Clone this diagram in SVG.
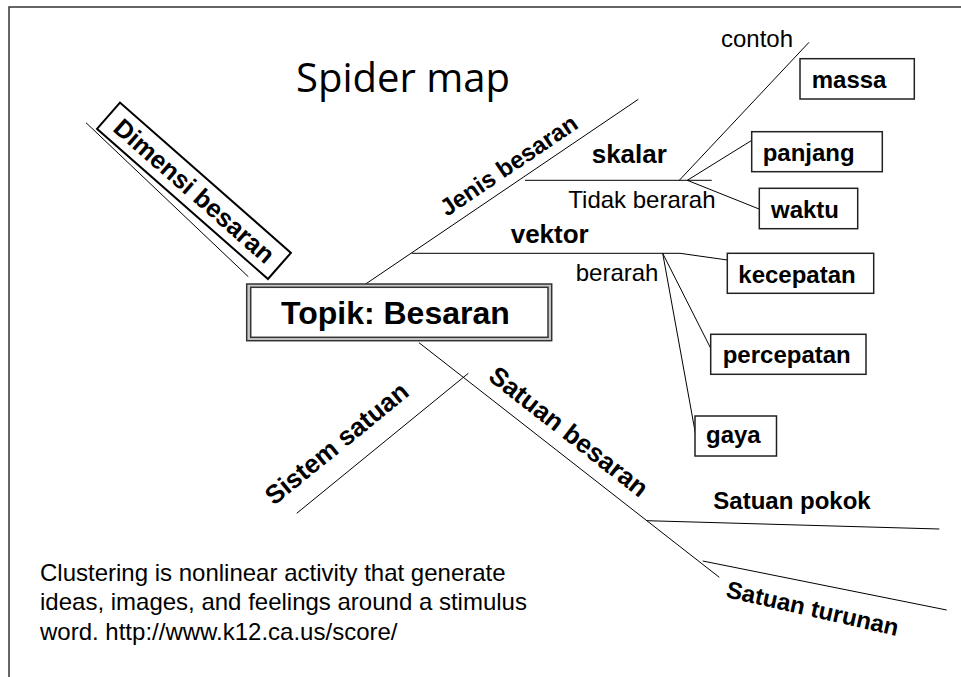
<svg xmlns="http://www.w3.org/2000/svg" width="961" height="677" viewBox="0 0 961 677">
  <style>
    .t{font-family:"Liberation Sans",Arial,sans-serif;fill:#000}
    .b{font-weight:bold}
    .s24{font-size:24px}
    .s26{font-size:26px}
    .ln{stroke:#000;stroke-width:1;fill:none}
    .box{fill:#fff;stroke:#222;stroke-width:1.5}
  </style>
  <rect width="961" height="677" fill="#fff"/>
  <!-- slide frame -->
  <rect x="9" y="7" width="970" height="690" fill="none" stroke="#333" stroke-width="1.5"/>

  <text id="title" x="296" y="92" style="font-family:'Open Sans','DejaVu Sans',sans-serif;font-size:40px" fill="#000">Spider map</text>

  <!-- connectors -->
  <g id="connectors" class="ln">
    <line x1="86" y1="122.7" x2="248.3" y2="276.7"/>
    <line x1="362.7" y1="286" x2="638.3" y2="99.3"/>
    <line x1="525" y1="180.3" x2="711.7" y2="180.3"/>
    <line x1="679.3" y1="180.3" x2="809" y2="42.3"/>
    <line x1="687.3" y1="180.3" x2="752.3" y2="140"/>
    <line x1="687.3" y1="180.3" x2="768.3" y2="212.7"/>
    <line x1="411.7" y1="253.3" x2="680" y2="253.3"/>
    <line x1="680" y1="253.3" x2="736.7" y2="261.3"/>
    <line x1="662.7" y1="253.3" x2="710.7" y2="348.3"/>
    <line x1="662.7" y1="253.3" x2="696" y2="436.7"/>
    <line x1="419" y1="342.7" x2="719.3" y2="577.3"/>
    <line x1="646.7" y1="520.7" x2="939.3" y2="529"/>
    <line x1="702.7" y1="561" x2="946.7" y2="610"/>
    <line x1="296.7" y1="513.3" x2="468.3" y2="373.3"/>
  </g>

  <!-- central topic -->
  <g id="topik">
    <rect x="246.7" y="284" width="305" height="56.7" fill="#c8c8c8" stroke="#333" stroke-width="1.5"/>
    <rect x="250.7" y="287.3" width="297.3" height="50" fill="#fff" stroke="#333" stroke-width="1.5"/>
    <text class="t b" x="281" y="324" style="font-size:32px">Topik: Besaran</text>
  </g>

  <g id="dimensi" transform="translate(120,102.7) rotate(41.3)">
    <rect x="0" y="0" width="227.5" height="34.8" fill="#fff" stroke="#000" stroke-width="2"/>
    <text class="t b" x="12" y="26" style="font-size:25.5px">Dimensi besaran</text>
  </g>

  <g id="jenis">
    <text class="t b s24" transform="translate(447,217) rotate(-34.1)">Jenis besaran</text>
  </g>

  <g id="skalar">
    <text class="t b s26" x="591.7" y="162.7">skalar</text>
    <text class="t s24" x="568.3" y="208.3">Tidak berarah</text>
  </g>
  <g id="contoh"><text class="t s24" x="721" y="46.7">contoh</text></g>

  <g id="vektor">
    <text class="t b s26" x="510.7" y="243.3">vektor</text>
    <text class="t s24" x="575.7" y="281">berarah</text>
  </g>

  <g id="massa">
    <rect class="box" x="800" y="58.7" width="114.3" height="40.3"/>
    <text class="t b s24" x="811.7" y="87.7">massa</text>
  </g>
  <g id="panjang">
    <rect class="box" x="751.7" y="131.7" width="130.6" height="40"/>
    <text class="t b s24" x="762.7" y="161.3">panjang</text>
  </g>
  <g id="waktu">
    <rect class="box" x="759.3" y="188.3" width="98.4" height="40.4"/>
    <text class="t b s24" x="771" y="218.3">waktu</text>
  </g>
  <g id="kecepatan">
    <rect class="box" x="727.3" y="253.3" width="146.4" height="40"/>
    <text class="t b s24" x="738.3" y="282.7">kecepatan</text>
  </g>
  <g id="percepatan">
    <rect class="box" x="710.7" y="334.3" width="155.3" height="40"/>
    <text class="t b s24" x="722.7" y="363.3">percepatan</text>
  </g>
  <g id="gaya">
    <rect class="box" x="695" y="416" width="81.5" height="40"/>
    <text class="t b s24" x="706" y="443">gaya</text>
  </g>

  <g id="satuan-besaran">
    <text class="t b s26" transform="translate(487,379) rotate(38)">Satuan besaran</text>
  </g>
  <g id="sistem-satuan">
    <text class="t b s26" transform="translate(274,506) rotate(-39.2)">Sistem satuan</text>
  </g>
  <g id="satuan-pokok">
    <text class="t b s24" x="713.3" y="509.3">Satuan pokok</text>
  </g>
  <g id="satuan-turunan">
    <text class="t b s24" transform="translate(725,597) rotate(12.8)">Satuan turunan</text>
  </g>

  <g id="note">
    <text class="t s24" x="40" y="580.7">Clustering is nonlinear activity that generate</text>
    <text class="t s24" x="40" y="610.2">ideas, images, and feelings around a stimulus</text>
    <text class="t s24" x="40" y="639.5">word. http://www.k12.ca.us/score/</text>
  </g>
</svg>
